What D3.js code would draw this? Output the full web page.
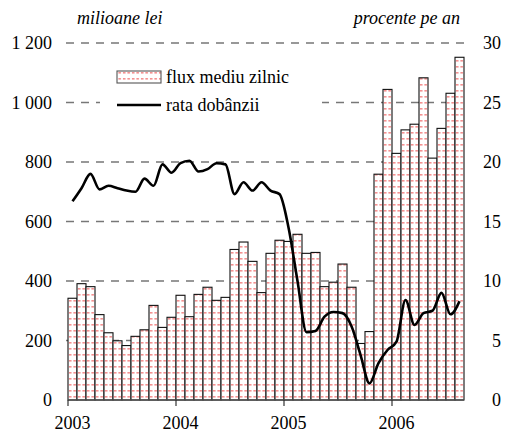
<!DOCTYPE html>
<html><head><meta charset="utf-8">
<script src="https://cdn.jsdelivr.net/npm/d3@7"></script>
<style>body{margin:0;background:#fff}svg{display:block}</style>
</head><body>
<script>
const months = d3.range(44).map(i => new Date(2003, i, 1));
const yearLabels = ["2003","2004","2005","2006"];
const leftTicks = [0,200,400,600,800,1000,1200];
const rightTicks = [0,5,10,15,20,25,30];
const fluxValues = [342,391,381,287,226,199,183,214,236,318,244,278,
  352,280,355,379,335,345,506,531,466,361,493,537,
  533,557,493,496,381,396,457,379,190,230,759,1044,
  829,908,927,1083,813,913,1031,1152];
const rateValues = [16.7,17.8,19.0,17.7,18.0,17.8,17.6,17.5,18.6,18.0,19.8,19.1,
  19.9,20.1,19.2,19.4,19.9,19.8,17.3,18.3,17.6,18.3,17.6,17.3,
  14.5,10.0,5.7,5.8,7.0,7.4,7.3,6.2,3.8,1.4,3.1,4.2,
  4.9,8.4,6.3,7.3,7.5,9.0,7.2,8.3];
const seriesNames = ["flux mediu zilnic","rata dobânzii"];
const axisTitles = ["milioane lei","procente pe an"];

const FONT="'Liberation Serif', Tinos, 'Noto Serif', 'DejaVu Serif', FreeSerif, Times, serif";
const W=508,H=437;
const svg=d3.select("body").append("svg").attr("width",W).attr("height",H)
  .style("font-family",FONT);
const x=d3.scaleBand().domain(d3.range(months.length)).range([68,464]).padding(0);
const yL=d3.scaleLinear().domain([0,1200]).range([400,43]);
const yR=d3.scaleLinear().domain([0,30]).range([400,43]);
const bw=x.bandwidth();

const defs=svg.append("defs");
const pat=defs.append("pattern").attr("id","dots").attr("patternUnits","userSpaceOnUse")
  .attr("x",68).attr("y",400).attr("width",bw/2).attr("height",6);
pat.append("rect").attr("width",bw/2).attr("height",6).attr("fill","#fff");
pat.append("rect").attr("x",0.9).attr("y",2).attr("width",2.6).attr("height",1.6).attr("fill","#f49090");

// gridlines
svg.append("g").selectAll("line").data(leftTicks.filter(d=>d>0)).join("line")
  .attr("x1",66).attr("x2",464).attr("y1",d=>yL(d)).attr("y2",d=>yL(d))
  .attr("stroke","#777").attr("stroke-width",1.3).attr("stroke-dasharray","8,7");

// bars
svg.append("g").selectAll("rect").data(fluxValues).join("rect")
  .attr("x",(d,i)=>x(i)).attr("width",bw)
  .attr("y",d=>yL(d)).attr("height",d=>yL(0)-yL(d))
  .attr("fill","url(#dots)").attr("stroke","#111").attr("stroke-width",1.1);

// bottom axis
const ax=svg.append("g");
ax.append("line").attr("x1",68).attr("x2",464).attr("y1",400).attr("y2",400).attr("stroke","#555").attr("stroke-width",1.3);
yearLabels.forEach((t,k)=>{
  const i=k*12, xp=x(i);
  ax.append("line").attr("x1",xp).attr("x2",xp).attr("y1",400).attr("y2",406).attr("stroke","#333").attr("stroke-width",1.2);
  ax.append("text").style("font-family",FONT).attr("x",xp+bw/2).attr("y",429).attr("text-anchor","middle").attr("font-size",18).text(t);
});

// rate line
const line=d3.line().x((d,i)=>x(i)+bw/2).y(d=>yR(d)).curve(d3.curveMonotoneX);
svg.append("path").datum(rateValues).attr("d",line).attr("fill","none").attr("stroke","#000").attr("stroke-width",2.6).attr("stroke-linejoin","round");

// axis labels
const fmt=d=>d>=1000?d3.format(",")(d).replace(","," "):String(d);
svg.append("g").selectAll("text").data(leftTicks).join("text").style("font-family",FONT)
  .attr("x",52).attr("y",d=>yL(d)+6).attr("text-anchor","end").attr("font-size",18).text(fmt);
svg.append("g").selectAll("text").data(rightTicks).join("text").style("font-family",FONT)
  .attr("x",501).attr("y",d=>yR(d)+6).attr("text-anchor","end").attr("font-size",18).text(d=>d);

// titles
svg.append("text").style("font-family",FONT).attr("x",77).attr("y",24).attr("font-size",18).attr("font-style","italic").text(axisTitles[0]);
svg.append("text").style("font-family",FONT).attr("x",460).attr("y",24).attr("text-anchor","end").attr("font-size",18).attr("font-style","italic").text(axisTitles[1]);

// legend
const lg=svg.append("g");
lg.append("rect").attr("x",100).attr("y",60).attr("width",222).attr("height",58).attr("fill","#fff");
lg.append("rect").attr("x",117).attr("y",71).attr("width",44).attr("height",12).attr("fill","url(#dots)").attr("stroke","#555").attr("stroke-width",1.1);
lg.append("text").style("font-family",FONT).attr("x",166).attr("y",83).attr("font-size",18).text(seriesNames[0]);
lg.append("line").attr("x1",117).attr("x2",161).attr("y1",105).attr("y2",105).attr("stroke","#000").attr("stroke-width",2.6);
lg.append("text").style("font-family",FONT).attr("x",166).attr("y",111).attr("font-size",18).text(seriesNames[1]);
</script>
</body></html>
